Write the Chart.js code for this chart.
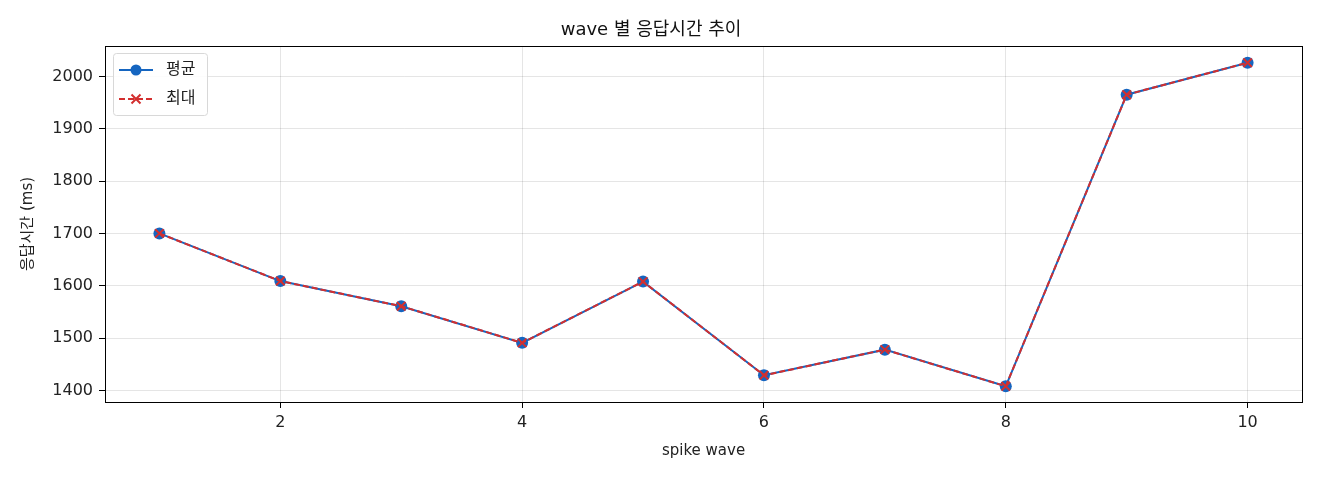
<!DOCTYPE html>
<html><head><meta charset="utf-8">
<script src="https://cdn.jsdelivr.net/npm/chart.js@4"></script>
<style>html,body{margin:0;padding:0;background:#fff}#wrap{width:1320px;height:480px}</style>
</head><body><div id="wrap"><canvas id="c" width="1320" height="480"></canvas></div>
<script>
const waves = [1,2,3,4,5,6,7,8,9,10];
const avgMs = [1700,1609,1561,1491,1608,1429,1478,1408,1965,2026];
const maxMs = [1700,1609,1561,1491,1608,1429,1478,1408,1965,2026];
const xTicks = [2,4,6,8,10];
const yTicks = [1400,1500,1600,1700,1800,1900,2000];
const FONT = "'DejaVu Sans', 'Noto Sans CJK KR', sans-serif";
const BLUE = '#1565c0', RED = '#d32f2f';

const frame = {
  id:'frame',
  afterDraw(ch){
    const {ctx, chartArea:a} = ch;
    ctx.save();
    ctx.strokeStyle='#000'; ctx.lineWidth=1;
    ctx.strokeRect(Math.round(a.left)+0.5, Math.round(a.top)+0.5, Math.round(a.right-a.left), Math.round(a.bottom-a.top));
    // legend
    const x0=a.left+8, y0=a.top+7, w=94, h=62;
    ctx.fillStyle='rgba(255,255,255,0.85)';
    ctx.strokeStyle='#d8d8d8';
    ctx.beginPath(); ctx.roundRect(x0+0.5,y0+0.5,w,h,3); ctx.fill(); ctx.stroke();
    ch.data.datasets.forEach((ds,i)=>{
      const yy = y0+17+i*29;
      ctx.strokeStyle=ds.borderColor; ctx.lineWidth=2;
      ctx.setLineDash(ds.borderDash||[]);
      ctx.beginPath(); ctx.moveTo(x0+6,yy); ctx.lineTo(x0+40,yy); ctx.stroke();
      ctx.setLineDash([]);
      const cx=x0+23;
      if(ds.pointStyle==='circle'){
        ctx.fillStyle=ds.borderColor; ctx.beginPath(); ctx.arc(cx,yy,5.5,0,Math.PI*2); ctx.fill();
      } else {
        ctx.lineWidth=2; ctx.beginPath();
        ctx.moveTo(cx-4.5,yy-4.5); ctx.lineTo(cx+4.5,yy+4.5); ctx.moveTo(cx-4.5,yy+4.5); ctx.lineTo(cx+4.5,yy-4.5); ctx.stroke();
      }
      ctx.fillStyle='#222'; ctx.font='16px '+FONT; ctx.textBaseline='middle';
      ctx.fillText(ds.label, x0+53, yy);
    });
    ctx.restore();
  }
};

new Chart(document.getElementById('c'), {
  type:'line',
  data:{
    datasets:[
      {label:'평균', data:waves.map((w,i)=>({x:w,y:avgMs[i]})), borderColor:BLUE, backgroundColor:BLUE,
       borderWidth:2, pointStyle:'circle', pointRadius:6, pointBorderWidth:0, order:2},
      {label:'최대', data:waves.map((w,i)=>({x:w,y:maxMs[i]})), borderColor:RED, backgroundColor:RED,
       borderWidth:2, borderDash:[6,3], pointStyle:'crossRot', pointRadius:6, pointBorderWidth:2, order:1}
    ]
  },
  options:{
    responsive:false, animation:false, devicePixelRatio:1,
    layout:{padding:{left:0,right:18,top:0,bottom:0}},
    plugins:{
      legend:{display:false}, tooltip:{enabled:false},
      title:{display:true, text:'wave 별 응답시간 추이', color:'#111', font:{family:FONT,size:18,weight:'normal'}, padding:{top:20,bottom:4.4}}
    },
    scales:{
      x:{type:'linear', min:0.55, max:10.45,
        afterBuildTicks(s){ s.ticks = xTicks.map(v=>({value:v})); },
        afterFit(s){ s.height=78; },
        grid:{color:'rgba(0,0,0,0.1)', tickColor:'#000', tickLength:6, drawTicks:true},
        border:{display:false},
        ticks:{color:'#222', font:{family:FONT,size:16}, padding:5, maxRotation:0, callback:v=>String(v)},
        title:{display:true, text:'spike wave', color:'#222', font:{family:FONT,size:15}, padding:{top:4,bottom:20}}
      },
      y:{type:'linear', min:1378, max:2058,
        afterBuildTicks(s){ s.ticks = yTicks.map(v=>({value:v})); },
        afterFit(s){ s.width=105; },
        grid:{color:'rgba(0,0,0,0.1)', tickColor:'#000', tickLength:6},
        border:{display:false},
        ticks:{color:'#222', font:{family:FONT,size:16}, padding:6, callback:v=>String(v)},
        title:{display:true, text:'응답시간 (ms)', color:'#222', font:{family:FONT,size:15}, padding:{top:19,bottom:4}}
      }
    }
  },
  plugins:[frame]
});
</script></body></html>
